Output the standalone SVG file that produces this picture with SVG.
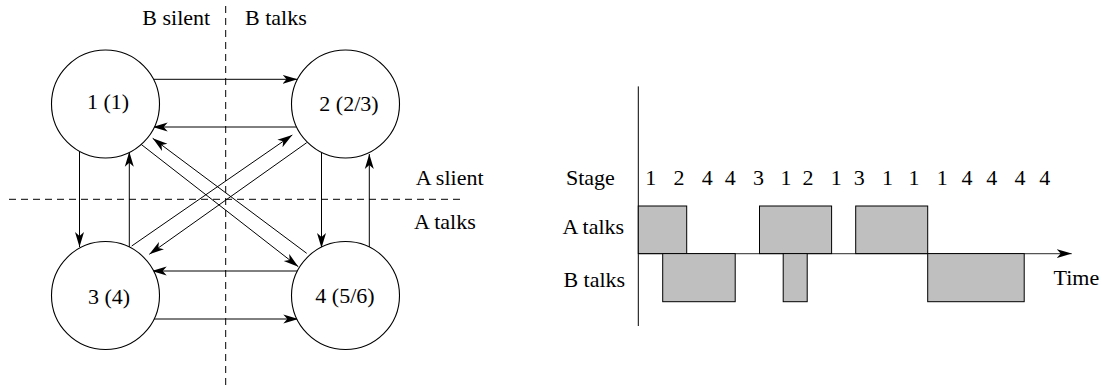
<svg xmlns="http://www.w3.org/2000/svg" width="1102" height="385" viewBox="0 0 1102 385">
<style>
text{font-family:"Liberation Serif","Times New Roman",serif;font-size:22px;fill:#000}
.node circle{fill:#fff;stroke:#000;stroke-width:1.1}
.node text{text-anchor:middle}
.conn line{stroke:#000;stroke-width:1;marker-end:url(#ah)}
.conn line.plain{marker-end:none}
.dash{stroke:#000;stroke-width:1;stroke-dasharray:7 5;fill:none}
.bar{fill:#bfbfbf;stroke:#000;stroke-width:1}
.dig{text-anchor:middle}
</style>
<defs>
<marker id="ah" markerUnits="userSpaceOnUse" markerWidth="16" markerHeight="10" refX="15" refY="5" orient="auto">
<path d="M15,5 L0,0.5 L4,5 L0,9.5 Z" fill="#000"/>
</marker>
</defs>
<rect width="1102" height="385" fill="#fff"/>
<g id="quadrants">
<line class="dash" x1="225.7" y1="6" x2="225.7" y2="385"/>
<line class="dash" x1="9" y1="199.3" x2="465" y2="199.3"/>
<text x="142.3" y="25">B silent</text>
<text x="245" y="25">B talks</text>
<text x="415.7" y="185">A slient</text>
<text x="414" y="229">A talks</text>
</g>
<g id="connectors" class="conn">
<line x1="153.5" y1="79.3" x2="297.5" y2="79.3"/>
<line x1="296.6" y1="127" x2="152.7" y2="127"/>
<line x1="154" y1="319" x2="298.3" y2="319"/>
<line x1="297.4" y1="271" x2="151.7" y2="271"/>
<line x1="79.5" y1="151.3" x2="79.5" y2="247"/>
<line x1="129.3" y1="247" x2="129.3" y2="151.7"/>
<line x1="321.5" y1="152.4" x2="321.5" y2="248"/>
<line x1="369.3" y1="247" x2="369.3" y2="154"/>
<line x1="140.7" y1="144" x2="298.3" y2="266.7"/>
<line x1="306.7" y1="253.3" x2="152.7" y2="138.3"/>
<line x1="131.7" y1="246" x2="292.3" y2="135"/>
<line x1="306.7" y1="142.7" x2="149.3" y2="254.3"/>
</g>
<g id="node1" class="node"><circle cx="105.5" cy="104" r="54"/><text x="108" y="109">1 (1)</text></g>
<g id="node2" class="node"><circle cx="345.5" cy="104" r="54"/><text x="349" y="111">2 (2/3)</text></g>
<g id="node3" class="node"><circle cx="105.5" cy="295.5" r="54"/><text x="109" y="304">3 (4)</text></g>
<g id="node4" class="node"><circle cx="345.5" cy="295.5" r="54"/><text x="345" y="302.7">4 (5/6)</text></g>
<g id="timeline">
<line x1="638.3" y1="86.4" x2="638.3" y2="326" stroke="#000" stroke-width="1"/>
<line x1="638.3" y1="253.6" x2="1071.7" y2="253.6" stroke="#555" stroke-width="1.4" marker-end="url(#ah)"/>
<rect class="bar" x="638.3" y="206" width="48.4" height="47.6"/>
<rect class="bar" x="759.5" y="206" width="72.1" height="47.6"/>
<rect class="bar" x="855.7" y="206" width="72" height="47.6"/>
<rect class="bar" x="662.7" y="253.6" width="72.5" height="48.1"/>
<rect class="bar" x="783.2" y="253.6" width="24" height="48.1"/>
<rect class="bar" x="927.7" y="253.6" width="96.5" height="48.1"/>
<text x="565.9" y="185">Stage</text>
<text x="562.4" y="234">A talks</text>
<text x="563.4" y="286.7">B talks</text>
<text x="1053.5" y="285">Time</text>
<text class="dig" x="650.7" y="185">1</text>
<text class="dig" x="679" y="185">2</text>
<text class="dig" x="707.2" y="185">4</text>
<text class="dig" x="730.2" y="185">4</text>
<text class="dig" x="758.5" y="185">3</text>
<text class="dig" x="786" y="185">1</text>
<text class="dig" x="808" y="185">2</text>
<text class="dig" x="836.2" y="185">1</text>
<text class="dig" x="859.2" y="185">3</text>
<text class="dig" x="887.5" y="185">1</text>
<text class="dig" x="914" y="185">1</text>
<text class="dig" x="942.2" y="185">1</text>
<text class="dig" x="967" y="185">4</text>
<text class="dig" x="991.7" y="185">4</text>
<text class="dig" x="1020" y="185">4</text>
<text class="dig" x="1044.7" y="185">4</text>
</g>
</svg>
